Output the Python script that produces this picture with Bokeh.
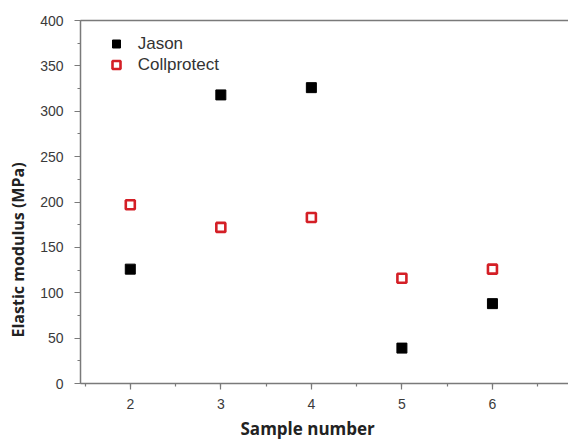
from bokeh.plotting import figure
from bokeh.models import (Range1d, SingleIntervalTicker, LinearAxis, FixedTicker,
                          Legend, LegendItem, Title)
from bokeh.embed import file_html
from bokeh.resources import INLINE

# Elastic modulus per sample for the two membranes
samples = [2, 3, 4, 5, 6]
jason = [126, 318, 326, 39, 88]
collprotect = [197, 172, 183, 116, 126]

AXIS_GREY = "#7a7a7a"
TICK_TEXT = "#3a3a3a"
TITLE_TEXT = "#222222"

p = figure(width=568, height=442, output_backend="svg", toolbar_location=None,
           x_range=Range1d(1.45, 6.84), y_range=Range1d(0, 400),
           min_border_left=0, min_border_right=0, min_border_top=20,
           min_border_bottom=0)
p.grid.visible = False
p.outline_line_color = None
p.background_fill_color = "white"
p.border_fill_color = "white"

# bottom axis
xa = p.xaxis[0]
xa.ticker = SingleIntervalTicker(interval=1, num_minor_ticks=2)
# left axis
ya = p.yaxis[0]
ya.ticker = SingleIntervalTicker(interval=50, num_minor_ticks=2)

for ax in (xa, ya):
    ax.axis_line_color = AXIS_GREY
    ax.axis_line_width = 1.5
    ax.major_tick_line_color = AXIS_GREY
    ax.minor_tick_line_color = AXIS_GREY
    ax.major_tick_line_width = 1.2
    ax.minor_tick_line_width = 1.2
    ax.major_tick_in = 0
    ax.major_tick_out = 6
    ax.minor_tick_in = 0
    ax.minor_tick_out = 3
    ax.major_label_text_font = "Liberation Sans"
    ax.major_label_text_font_size = "14px"
    ax.major_label_text_color = TICK_TEXT

xa.major_label_standoff = 9
ya.major_label_standoff = 11

title_style = dict(text_font="Open Sans", text_font_style="bold",
                   text_color=TITLE_TEXT)

# axis titles, placed as in the original figure
p.add_layout(Title(text="Sample number", align="left", offset=160,
                   vertical_align="bottom", standoff=6,
                   text_font_size="17px", **title_style), "below")
p.add_layout(Title(text="Elastic modulus (MPa)", align="left", offset=46,
                   vertical_align="top", standoff=13,
                   text_font_size="16px", **title_style), "left")

# plain line along the top edge
top = LinearAxis(ticker=FixedTicker(ticks=[]), axis_line_color=AXIS_GREY,
                 axis_line_width=1.5, major_tick_out=0, major_tick_in=0,
                 minor_tick_out=0, minor_tick_in=0,
                 major_label_text_font_size="0px")
p.add_layout(top, "above")

r_jason = p.scatter(samples, jason, marker="square", size=10,
                    fill_color="black", line_color="black", line_width=1)
r_coll = p.scatter(samples, collprotect, marker="square", size=9,
                   fill_color="white", line_color="#d41f26", line_width=2.6)

legend = Legend(items=[LegendItem(label="Jason", renderers=[r_jason]),
                       LegendItem(label="Collprotect", renderers=[r_coll])],
                location=(25.7, 307.8), glyph_width=20, glyph_height=21,
                label_height=21, label_standoff=12, padding=0, margin=0,
                spacing=0, border_line_color=None, background_fill_alpha=0,
                label_text_font="Liberation Sans", label_text_font_size="17px",
                label_text_color="#333333")
p.add_layout(legend)

open("out.html", "w").write(file_html(p, INLINE))
